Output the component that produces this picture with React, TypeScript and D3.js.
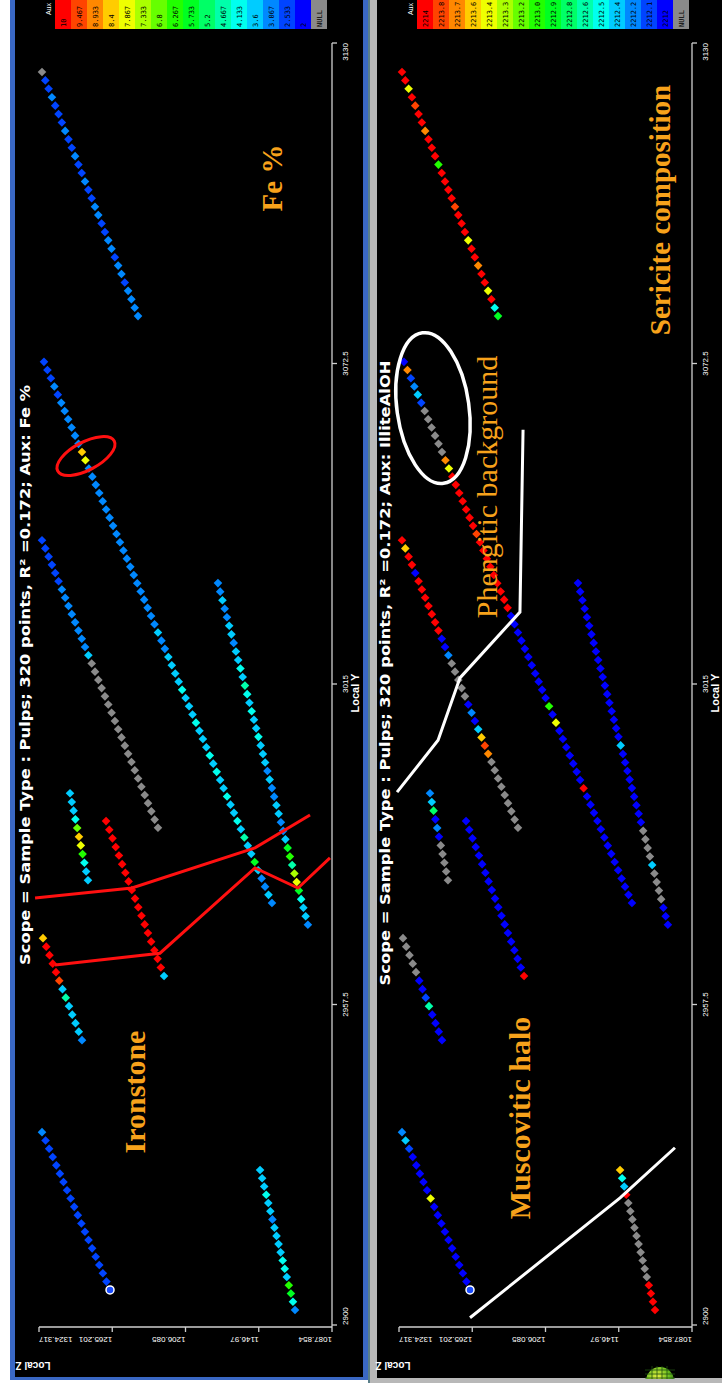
import React from "react";
import * as d3 from "d3";

const W = 722;
const H = 1394;

const zTicks = [1324.317, 1265.201, 1206.085, 1146.97, 1087.854];
const zTickLabels = ["1324.317", "1265.201", "1206.085", "1146.97", "1087.854"];
const yTicks = [2900, 2957.5, 3015, 3072.5, 3130];
const yTickLabels = ["2900", "2957.5", "3015", "3072.5", "3130"];
const feLegend = ["10", "9.467", "8.933", "8.4", "7.867", "7.333", "6.8", "6.267", "5.733", "5.2", "4.667", "4.133", "3.6", "3.067", "2.533", "2"];
const alLegend = ["2214", "2213.8", "2213.7", "2213.6", "2213.4", "2213.3", "2213.2", "2213.0", "2212.9", "2212.8", "2212.6", "2212.5", "2212.4", "2212.2", "2212.1", "2212"];

// drillhole traces: from / to in (Local Z, Local Y)
const holeFrom: [number, number][] = [
  [1321.9, 3124.8],
  [1320.3, 3072.8],
  [1179.9, 3033.1],
  [1321.9, 3040.8],
  [1299.3, 2995.4],
  [1321.1, 2969.4],
  [1270.2, 2990.4],
  [1321.9, 2934.6],
  [1145.9, 2927.8],
];
const holeTo: [number, number][] = [
  [1244.4, 3081.0],
  [1136.3, 2975.7],
  [1107.3, 2971.8],
  [1228.3, 2989.2],
  [1284.8, 2979.8],
  [1289.6, 2951.1],
  [1223.4, 2962.6],
  [1267.0, 2906.3],
  [1117.7, 2902.7],
];
const N = null;
const feValues: (number | null)[][] = [
  [N, 2.5, 2.5, 3.1, 2.5, 2.5, 2.6, 3.0, 2.5, 2.6, 3.1, 2.5, 2.5, 3.0, 2.6, 2.5, 3.1, 3.0, 2.5, 2.6, 3.1, 3.0, 2.5, 3.1, 3.1, 2.6, 3.1, 3.0, 3.1, 3.1],
  [2.5, 2.5, 2.6, 3.0, 2.6, 3.0, 3.1, 3.0, 3.0, 3.1, 3.1, 8.4, 7.9, 3.1, 3.1, 3.0, 3.1, 3.1, 3.1, 3.0, 3.1, 3.1, 3.1, 3.0, 3.1, 3.1, 3.0, 3.1, 3.1, 3.1, 3.1, 3.1, 3.1, 3.6, 3.1, 3.1, 3.6, 3.6, 3.6, 3.6, 4.1, 3.6, 3.6, 3.6, 4.1, 3.6, 3.6, 3.6, 4.1, 3.6, 4.1, 3.6, 3.6, 4.1, 3.6, 3.6, 4.1, 3.6, 4.7, 3.6, 3.6, 5.7, 3.6, 3.1, 3.1, 3.6, 3.1],
  [3.1, 3.1, 3.6, 3.1, 3.1, 3.6, 3.6, 3.1, 3.6, 3.6, 4.1, 3.6, 4.7, 4.1, 3.6, 4.1, 3.6, 3.6, 4.1, 3.6, 3.6, 3.6, 3.1, 3.6, 3.1, 3.1, 3.6, 3.6, 3.1, 3.1, 3.6, 5.7, 6.3, 4.7, 7.3, 7.9, 5.7, 4.1, 3.6, 3.6, 3.1],
  [2.5, 2.5, 2.5, 2.5, 2.6, 2.5, 3.1, 3.0, 3.1, 3.1, 3.1, 3.1, 3.1, 3.1, 3.6, N, N, N, N, N, N, N, N, N, N, N, N, N, N, N, N, N, N, N, N, N],
  [3.6, 3.6, 3.6, 4.1, 6.8, 8.4, 7.9, 6.3, 4.1, 3.6, 3.6],
  [8.4, 10, 10, 10, 10, 9.5, 3.6, 4.7, 3.6, 3.6, 3.6, 3.6, 3.1],
  [10, 10, 10, 10, 10, 10, 10, 10, 10, 10, 10, 10, 10, 10, 10, 10, 10, 10, 3.6],
  [3.1, 2.5, 2.5, 2.5, 2.5, 2.5, 2.5, 2.5, 2.5, 2.5, 2.5, 2.5, 2.5, 2.5, 2.5, 2.5, 2.5, 2.5, 2.5, 2.0],
  [3.6, 3.6, 3.6, 4.1, 3.6, 3.6, 3.1, 3.6, 3.6, 3.6, 3.6, 4.1, 4.1, 3.6, 6.3, 5.7, 4.1, 3.1],
];
const alValues: (number | null)[][] = [
  [2214, 2214, 2213.5, 2214, 2213.9, 2214, 2214, 2213.7, 2214, 2214, 2214, 2213.1, 2214, 2214, 2214, 2214, 2213.9, 2214, 2214, 2214, 2213.5, 2214, 2214, 2213.7, 2214, 2214, 2213.5, 2214, 2212.5, 2213.0],
  [2212, 2213.7, 2212.1, 2212.3, 2212.4, 2212.1, N, N, N, N, N, N, 2213.7, 2213.5, 2214, 2214, 2214, 2214, 2214, 2214, 2214, 2213.9, 2214, 2214, 2214, 2214, 2214, 2214, 2214, 2214, 2214, 2212, 2212, 2212, 2212, 2212, 2212, 2212, 2212, 2212, 2212, 2212, 2213.1, 2212, 2213.5, 2212, 2212, 2212, 2212, 2212, 2212, 2212, 2214, 2212, 2212, 2212, 2212, 2212, 2212, 2212, 2212, 2212, 2212, 2212, 2212, 2212, 2212],
  [2212, 2212, 2212, 2212, 2212, 2212, 2212, 2212, 2212, 2212, 2212, 2212, 2212, 2212, 2212, 2212, 2212, 2212, 2212, 2212.4, 2212, 2212, 2212, 2212, 2212, 2212, 2212, 2212, 2212, N, N, N, N, 2212.4, N, N, N, N, 2212, 2212, 2212],
  [2214, 2213.6, 2214, 2214, 2212, 2214, 2214, 2214, 2214, 2214, 2214, 2214, 2212, 2212, 2212.3, N, N, N, N, N, 2212, 2212.3, 2212, 2212.4, 2213.6, 2213.8, 2213.7, N, N, N, N, N, N, N, N, N],
  [2212.3, 2212.4, 2212.8, 2212, 2212.3, 2212, N, N, N, N, N],
  [N, N, N, N, N, 2212, 2212, 2212.1, 2212.7, 2212, 2212, 2212, 2212],
  [2212, 2212, 2212, 2212, 2212, 2212, 2212, 2212, 2212, 2212, 2212, 2212, 2212, 2212, 2212, 2212, 2212, 2212, 2214],
  [2212.3, 2212.4, 2212.1, 2212, 2212, 2212, 2212, 2212, 2213.5, 2212, 2212, 2212, 2212, 2212, 2212, 2212, 2212, 2212, 2212, 2212],
  [2213.6, 2212.5, 2212.4, 2214, N, N, N, N, N, N, N, N, N, N, 2214, 2214, 2214, 2214],
];

// hand-drawn annotations (Local Z, Local Y)
const redLineA: [number, number][] = [[1327.5, 2976.6], [1249.3, 2978.4], [1150.0, 2985.6], [1105.6, 2991.5]];
const redLineB: [number, number][] = [[1311.4, 2964.6], [1226.7, 2966.7], [1150.0, 2982.0], [1115.3, 2978.4], [1089.5, 2983.8]];
const redEllipse = { z: 1286.4, y: 3055.9 };
const whiteLineA: [number, number][] = [[1325.9, 2995.6], [1292.8, 3004.9], [1275.1, 3016.1], [1226.7, 3027.9], [1224.2, 3060.6]];
const whiteLineB: [number, number][] = [[1267.0, 2901.3], [1145.9, 2922.8], [1101.6, 2931.8]];
const whiteEllipse = { z: 1296.9, y: 3064.5 };

const NULL_COLOR = "#8a8a8a";
const legendColors = d3.range(16).map((i) => d3.hsl((240 * i) / 15, 1, 0.5).formatHex());

function feColor(v: number | null) {
  if (v == null) return NULL_COLOR;
  const i = Math.max(0, Math.min(15, Math.round((10 - v) / (8 / 15))));
  return legendColors[i];
}
function alColor(v: number | null) {
  if (v == null) return NULL_COLOR;
  const i = Math.max(0, Math.min(15, Math.round((2214 - v) / (2 / 15))));
  return legendColors[i];
}

const ORANGE = "#f7a21b";
const BLUE_FRAME = "#3a68c4";
const SANS = "'Liberation Sans', Arial, sans-serif";
const SERIF = "'Liberation Serif', 'Times New Roman', serif";

function Panel({ ox, lox, values, colorFn, legend, title, titleLen, titleY, kind }: any) {
  const zs = d3.scaleLinear().domain([1087.854, 1324.317]).range([ox + 332, ox + 39]);
  const ys = d3.scaleLinear().domain([2900, 3130]).range([1325, 43]);
  const line = d3.line<[number, number]>().x((d) => zs(d[0])).y((d) => ys(d[1]));
  const diamond = "M0,-4.3L4.3,0L0,4.3L-4.3,0Z";
  const axisColor = "#cfcfcf";
  const tickFont = { fontFamily: SANS, fontSize: 8, fill: "#ffffff" };
  const legFont = { fontFamily: "'DejaVu Sans Mono', monospace", fontSize: 7, fill: "#000" };
  return (
    <g>
      {/* legend */}
      <text transform={`translate(${lox + 51},3) rotate(-90)`} textAnchor="end" style={{ fontFamily: SANS, fontSize: 7, fill: "#fff" } as any}>Aux</text>
      {legend.map((lab: string, i: number) => (
        <g key={i}>
          <rect x={lox + 55 + i * 16} y={-2} width={16} height={31} fill={legendColors[i]} />
          <text transform={`translate(${lox + 55 + i * 16 + 11},27) rotate(-90)`} style={legFont as any}>{lab}</text>
        </g>
      ))}
      <rect x={lox + 55 + 16 * 16} y={-2} width={16} height={31} fill={NULL_COLOR} />
      <text transform={`translate(${lox + 55 + 16 * 16 + 11},27) rotate(-90)`} style={legFont as any}>NULL</text>

      {/* axes */}
      <line x1={ox + 39} x2={ox + 332} y1={1327} y2={1327} stroke={axisColor} strokeWidth={1.3} />
      <line x1={ox + 332} x2={ox + 332} y1={43} y2={1327} stroke={axisColor} strokeWidth={1.3} />
      {zTicks.map((t, i) => (
        <g key={i}>
          <line x1={zs(t)} x2={zs(t)} y1={1327} y2={1332} stroke={axisColor} strokeWidth={1.3} />
          <text transform={`translate(${zs(t)},1337) rotate(180)`} textAnchor={i === 0 ? "end" : "start"} style={tickFont as any}>{zTickLabels[i]}</text>
        </g>
      ))}
      {yTicks.map((t, i) => (
        <g key={i}>
          <line x1={ox + 332} x2={ox + 337} y1={ys(t)} y2={ys(t)} stroke={axisColor} strokeWidth={1.3} />
          <text transform={`translate(${ox + 348},${ys(t)}) rotate(-90)`} textAnchor={i === 0 ? "start" : i === yTicks.length - 1 ? "end" : "middle"} style={tickFont as any}>{yTickLabels[i]}</text>
        </g>
      ))}
      <text transform={`translate(${ox + 359},693) rotate(-90)`} textAnchor="middle" style={{ fontFamily: SANS, fontSize: 11, fontWeight: 700, fill: "#fff" } as any}>Local Y</text>
      <text transform={`translate(${ox + 33},1362) rotate(180)`} textAnchor="middle" style={{ fontFamily: SANS, fontSize: 10, fontWeight: 700, fill: "#fff" } as any}>Local Z</text>

      {/* title */}
      <text transform={`translate(${ox + 30},${titleY}) rotate(-90)`} textAnchor="middle" textLength={titleLen} lengthAdjust="spacingAndGlyphs" style={{ fontFamily: "'DejaVu Sans', sans-serif", fontSize: 14, fontWeight: 700, fill: "#fff" } as any}>{title}</text>

      {/* points */}
      {holeFrom.map((f, h) => {
        const to = holeTo[h];
        const vals = values[h];
        const n = vals.length;
        return (
          <g key={h}>
            {vals.map((v: number | null, i: number) => {
              const t = n === 1 ? 0 : i / (n - 1);
              const z = f[0] + (to[0] - f[0]) * t;
              const y = f[1] + (to[1] - f[1]) * t;
              return <path key={i} d={diamond} transform={`translate(${zs(z)},${ys(y)})`} fill={colorFn(v)} />;
            })}
          </g>
        );
      })}
      {/* collar marker */}
      <circle cx={zs(holeTo[7][0])} cy={ys(holeTo[7][1])} r={4} fill="#1a4cff" stroke="#fff" strokeWidth={1.5} />

      {kind === "fe" ? (
        <g>
          <path d={line(redLineA) || ""} fill="none" stroke="#ff1010" strokeWidth={3} />
          <path d={line(redLineB) || ""} fill="none" stroke="#ff1010" strokeWidth={3} />
          <ellipse transform={`translate(${zs(redEllipse.z)},${ys(redEllipse.y)}) rotate(-28)`} rx={32} ry={14} fill="none" stroke="#ff1010" strokeWidth={3} />
          <text transform={`translate(${ox + 145},1092) rotate(-90)`} textAnchor="middle" style={{ fontFamily: SERIF, fontSize: 30, fontWeight: 700, fill: ORANGE } as any}>Ironstone</text>
          <text transform={`translate(${ox + 282},178) rotate(-90)`} textAnchor="middle" style={{ fontFamily: SERIF, fontSize: 29, fontWeight: 700, fill: ORANGE } as any}>Fe %</text>
        </g>
      ) : (
        <g>
          <path d={line(whiteLineA) || ""} fill="none" stroke="#ffffff" strokeWidth={3} />
          <path d={line(whiteLineB) || ""} fill="none" stroke="#ffffff" strokeWidth={3} />
          <ellipse transform={`translate(${zs(whiteEllipse.z)},${ys(whiteEllipse.y)}) rotate(-8)`} rx={36} ry={76} fill="none" stroke="#ffffff" strokeWidth={3.5} />
          <text transform={`translate(${ox + 137},487) rotate(-90)`} textAnchor="middle" style={{ fontFamily: SERIF, fontSize: 30, fill: ORANGE } as any}>Phengitic background</text>
          <text transform={`translate(${ox + 170},1118) rotate(-90)`} textAnchor="middle" style={{ fontFamily: SERIF, fontSize: 30, fontWeight: 700, fill: ORANGE } as any}>Muscovitic halo</text>
          <text transform={`translate(${ox + 310},210) rotate(-90)`} textAnchor="middle" style={{ fontFamily: SERIF, fontSize: 29, fontWeight: 700, fill: ORANGE } as any}>Sericite composition</text>
        </g>
      )}
    </g>
  );
}

export default function App() {
  return (
    <svg width={W} height={H} style={{ position: "absolute", left: 0, top: 0, background: "#fff" }}>
      <rect x={0} y={0} width={W} height={H} fill="#fff" />
      {/* left panel frame */}
      <rect x={10} y={-5} width={358} height={1385} fill={BLUE_FRAME} />
      <rect x={15} y={-5} width={348} height={1382} fill="#000" />
      {/* right panel frame */}
      <rect x={368} y={-5} width={360} height={1388} fill="#b8b8b8" />
      <rect x={368} y={-5} width={2} height={1388} fill="#5a7f8a" />
      <rect x={377} y={-5} width={350} height={1383} fill="#000" />

      <Panel ox={0} lox={0} values={feValues} colorFn={feColor} legend={feLegend} kind="fe" titleLen={580} titleY={675}
        title={"Scope = Sample Type : Pulps;  320 points, R\u00B2 =0.172;  Aux: Fe %"} />
      <Panel ox={360} lox={362} values={alValues} colorFn={alColor} legend={alLegend} kind="al" titleLen={625} titleY={673}
        title={"Scope = Sample Type : Pulps;  320 points, R\u00B2 =0.172;  Aux: IlliteAlOH"} />

      {/* globe icon */}
      <defs>
        <clipPath id="globeClip"><rect x={640} y={1360} width={40} height={19} /></clipPath>
        <radialGradient id="globeGrad" cx="0.4" cy="0.35" r="0.7">
          <stop offset="0" stopColor="#e8f040" />
          <stop offset="0.6" stopColor="#6cc020" />
          <stop offset="1" stopColor="#2a6a10" />
        </radialGradient>
      </defs>
      <g clipPath="url(#globeClip)">
        <circle cx={660} cy={1381} r={14} fill="url(#globeGrad)" />
        {[-8, -3, 2, 7].map((d, i) => (
          <line key={i} x1={660 + d} x2={660 + d} y1={1366} y2={1395} stroke="#1f4f10" strokeWidth={0.8} />
        ))}
        {[1370, 1374, 1378].map((y, i) => (
          <line key={i} x1={645} x2={675} y1={y} y2={y} stroke="#1f4f10" strokeWidth={0.8} />
        ))}
      </g>
    </svg>
  );
}
